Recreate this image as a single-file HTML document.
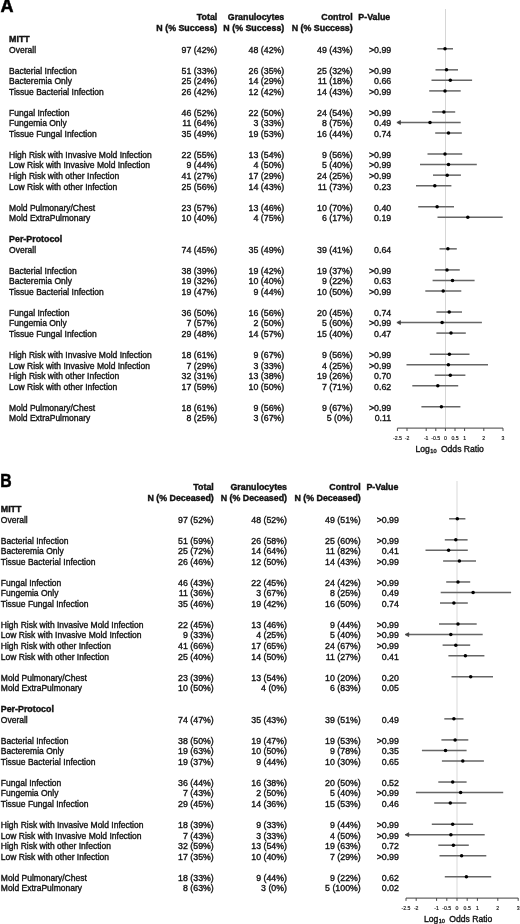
<!DOCTYPE html>
<html><head><meta charset="utf-8"><style>
html,body{margin:0;padding:0;background:#fff;}
body{width:520px;height:924px;overflow:hidden;}
svg{display:block;will-change:transform;}
text{font-family:"Liberation Sans",sans-serif;fill:#111;stroke:#111;stroke-width:0.35px;}
.b{font-weight:bold;font-size:8.85px;stroke-width:0.4px;}
.r{font-size:8.5px;}
.n{font-size:8.8px;}
.e{text-anchor:end;}
.let{font-weight:bold;font-size:17.3px;fill:#000;stroke:#000;stroke-width:0.5px;}
.tl{font-size:5.2px;text-anchor:middle;stroke-width:0.15px;}
.xl{font-size:8.6px;}
.sub{font-size:5.6px;}
.ci{stroke:#666;stroke-width:1.5;}
.ar{stroke:#444;stroke-width:0.9;fill:#444;stroke-linejoin:miter;}
.dot{fill:#000;}
.ref{stroke:#bbb;stroke-width:0.9;}
.ax{stroke:#666;stroke-width:1.2;}
.tk{stroke:#444;stroke-width:1;}
</style></head><body>
<svg width="520" height="924" viewBox="0 0 520 924">
<text x="0.45" y="12.4" class="let" style="font-size:18.0px" textLength="13.0" lengthAdjust="spacingAndGlyphs">A</text>
<text x="217.3" y="20.40" class="b e">Total</text>
<text x="217.3" y="31.30" class="b e">N (% Success)</text>
<text x="284.3" y="20.40" class="b e">Granulocytes</text>
<text x="284.3" y="31.30" class="b e">N (% Success)</text>
<text x="352.7" y="20.40" class="b e">Control</text>
<text x="352.7" y="31.30" class="b e">N (% Success)</text>
<text x="358.3" y="20.40" class="b">P-Value</text>
<line x1="445.5" y1="9" x2="445.5" y2="428.2" class="ref" style="stroke:#d6d6d6;stroke-width:1"/>
<text x="9.1" y="42.10" class="b">MITT</text>
<text x="9.1" y="52.63" class="r">Overall</text>
<text x="217.3" y="52.63" class="n e">97 (42%)</text>
<text x="284.3" y="52.63" class="n e">48 (42%)</text>
<text x="352.7" y="52.63" class="n e">49 (43%)</text>
<text x="391.2" y="52.63" class="n e">>0.99</text>
<line x1="437.3" y1="48.78" x2="453.0" y2="48.78" class="ci"/>
<circle cx="445.0" cy="48.78" r="1.75" class="dot"/>
<text x="9.1" y="73.69" class="r">Bacterial Infection</text>
<text x="217.3" y="73.69" class="n e">51 (33%)</text>
<text x="284.3" y="73.69" class="n e">26 (35%)</text>
<text x="352.7" y="73.69" class="n e">25 (32%)</text>
<text x="391.2" y="73.69" class="n e">>0.99</text>
<line x1="435.5" y1="69.84" x2="458.0" y2="69.84" class="ci"/>
<circle cx="446.5" cy="69.84" r="1.75" class="dot"/>
<text x="9.1" y="84.22" class="r">Bacteremia Only</text>
<text x="217.3" y="84.22" class="n e">25 (24%)</text>
<text x="284.3" y="84.22" class="n e">14 (29%)</text>
<text x="352.7" y="84.22" class="n e">11 (18%)</text>
<text x="391.2" y="84.22" class="n e">0.66</text>
<line x1="431.5" y1="80.37" x2="472.1" y2="80.37" class="ci"/>
<circle cx="450.3" cy="80.37" r="1.75" class="dot"/>
<text x="9.1" y="94.75" class="r">Tissue Bacterial Infection</text>
<text x="217.3" y="94.75" class="n e">26 (42%)</text>
<text x="284.3" y="94.75" class="n e">12 (42%)</text>
<text x="352.7" y="94.75" class="n e">14 (43%)</text>
<text x="391.2" y="94.75" class="n e">>0.99</text>
<line x1="429.2" y1="90.90" x2="460.7" y2="90.90" class="ci"/>
<circle cx="445.0" cy="90.90" r="1.75" class="dot"/>
<text x="9.1" y="115.81" class="r">Fungal Infection</text>
<text x="217.3" y="115.81" class="n e">46 (52%)</text>
<text x="284.3" y="115.81" class="n e">22 (50%)</text>
<text x="352.7" y="115.81" class="n e">24 (54%)</text>
<text x="391.2" y="115.81" class="n e">>0.99</text>
<line x1="432.2" y1="111.96" x2="455.2" y2="111.96" class="ci"/>
<circle cx="443.9" cy="111.96" r="1.75" class="dot"/>
<text x="9.1" y="126.34" class="r">Fungemia Only</text>
<text x="217.3" y="126.34" class="n e">11 (64%)</text>
<text x="284.3" y="126.34" class="n e">3 (33%)</text>
<text x="352.7" y="126.34" class="n e">8 (75%)</text>
<text x="391.2" y="126.34" class="n e">0.49</text>
<line x1="396.8" y1="122.49" x2="460.7" y2="122.49" class="ci"/>
<polygon points="400.40,120.59 397.20,122.49 400.40,124.39" class="ar"/>
<circle cx="430.0" cy="122.49" r="1.75" class="dot"/>
<text x="9.1" y="136.87" class="r">Tissue Fungal Infection</text>
<text x="217.3" y="136.87" class="n e">35 (49%)</text>
<text x="284.3" y="136.87" class="n e">19 (53%)</text>
<text x="352.7" y="136.87" class="n e">16 (44%)</text>
<text x="391.2" y="136.87" class="n e">0.74</text>
<line x1="435.2" y1="133.02" x2="461.8" y2="133.02" class="ci"/>
<circle cx="448.5" cy="133.02" r="1.75" class="dot"/>
<text x="9.1" y="157.93" class="r">High Risk with Invasive Mold Infection</text>
<text x="217.3" y="157.93" class="n e">22 (55%)</text>
<text x="284.3" y="157.93" class="n e">13 (54%)</text>
<text x="352.7" y="157.93" class="n e">9 (56%)</text>
<text x="391.2" y="157.93" class="n e">>0.99</text>
<line x1="427.5" y1="154.08" x2="462.2" y2="154.08" class="ci"/>
<circle cx="445.0" cy="154.08" r="1.75" class="dot"/>
<text x="9.1" y="168.46" class="r">Low Risk with Invasive Mold Infection</text>
<text x="217.3" y="168.46" class="n e">9 (44%)</text>
<text x="284.3" y="168.46" class="n e">4 (50%)</text>
<text x="352.7" y="168.46" class="n e">5 (40%)</text>
<text x="391.2" y="168.46" class="n e">>0.99</text>
<line x1="420.0" y1="164.61" x2="476.8" y2="164.61" class="ci"/>
<circle cx="448.5" cy="164.61" r="1.75" class="dot"/>
<text x="9.1" y="178.99" class="r">High Risk with other Infection</text>
<text x="217.3" y="178.99" class="n e">41 (27%)</text>
<text x="284.3" y="178.99" class="n e">17 (29%)</text>
<text x="352.7" y="178.99" class="n e">24 (25%)</text>
<text x="391.2" y="178.99" class="n e">>0.99</text>
<line x1="433.0" y1="175.14" x2="460.9" y2="175.14" class="ci"/>
<circle cx="447.2" cy="175.14" r="1.75" class="dot"/>
<text x="9.1" y="189.52" class="r">Low Risk with other Infection</text>
<text x="217.3" y="189.52" class="n e">25 (56%)</text>
<text x="284.3" y="189.52" class="n e">14 (43%)</text>
<text x="352.7" y="189.52" class="n e">11 (73%)</text>
<text x="391.2" y="189.52" class="n e">0.23</text>
<line x1="416.0" y1="185.67" x2="451.4" y2="185.67" class="ci"/>
<circle cx="434.8" cy="185.67" r="1.75" class="dot"/>
<text x="9.1" y="210.58" class="r">Mold Pulmonary/Chest</text>
<text x="217.3" y="210.58" class="n e">23 (57%)</text>
<text x="284.3" y="210.58" class="n e">13 (46%)</text>
<text x="352.7" y="210.58" class="n e">10 (70%)</text>
<text x="391.2" y="210.58" class="n e">0.40</text>
<line x1="418.2" y1="206.73" x2="454.0" y2="206.73" class="ci"/>
<circle cx="437.1" cy="206.73" r="1.75" class="dot"/>
<text x="9.1" y="221.11" class="r">Mold ExtraPulmonary</text>
<text x="217.3" y="221.11" class="n e">10 (40%)</text>
<text x="284.3" y="221.11" class="n e">4 (75%)</text>
<text x="352.7" y="221.11" class="n e">6 (17%)</text>
<text x="391.2" y="221.11" class="n e">0.19</text>
<line x1="437.5" y1="217.26" x2="502.7" y2="217.26" class="ci"/>
<circle cx="467.8" cy="217.26" r="1.75" class="dot"/>
<text x="9.1" y="242.17" class="b">Per-Protocol</text>
<text x="9.1" y="252.70" class="r">Overall</text>
<text x="217.3" y="252.70" class="n e">74 (45%)</text>
<text x="284.3" y="252.70" class="n e">35 (49%)</text>
<text x="352.7" y="252.70" class="n e">39 (41%)</text>
<text x="391.2" y="252.70" class="n e">0.64</text>
<line x1="439.5" y1="248.85" x2="456.8" y2="248.85" class="ci"/>
<circle cx="447.9" cy="248.85" r="1.75" class="dot"/>
<text x="9.1" y="273.76" class="r">Bacterial Infection</text>
<text x="217.3" y="273.76" class="n e">38 (39%)</text>
<text x="284.3" y="273.76" class="n e">19 (42%)</text>
<text x="352.7" y="273.76" class="n e">19 (37%)</text>
<text x="391.2" y="273.76" class="n e">>0.99</text>
<line x1="434.8" y1="269.91" x2="459.8" y2="269.91" class="ci"/>
<circle cx="447.0" cy="269.91" r="1.75" class="dot"/>
<text x="9.1" y="284.29" class="r">Bacteremia Only</text>
<text x="217.3" y="284.29" class="n e">19 (32%)</text>
<text x="284.3" y="284.29" class="n e">10 (40%)</text>
<text x="352.7" y="284.29" class="n e">9 (22%)</text>
<text x="391.2" y="284.29" class="n e">0.63</text>
<line x1="432.6" y1="280.44" x2="474.6" y2="280.44" class="ci"/>
<circle cx="452.5" cy="280.44" r="1.75" class="dot"/>
<text x="9.1" y="294.82" class="r">Tissue Bacterial Infection</text>
<text x="217.3" y="294.82" class="n e">19 (47%)</text>
<text x="284.3" y="294.82" class="n e">9 (44%)</text>
<text x="352.7" y="294.82" class="n e">10 (50%)</text>
<text x="391.2" y="294.82" class="n e">>0.99</text>
<line x1="425.3" y1="290.97" x2="461.3" y2="290.97" class="ci"/>
<circle cx="443.2" cy="290.97" r="1.75" class="dot"/>
<text x="9.1" y="315.88" class="r">Fungal Infection</text>
<text x="217.3" y="315.88" class="n e">36 (50%)</text>
<text x="284.3" y="315.88" class="n e">16 (56%)</text>
<text x="352.7" y="315.88" class="n e">20 (45%)</text>
<text x="391.2" y="315.88" class="n e">0.74</text>
<line x1="436.4" y1="312.03" x2="462.0" y2="312.03" class="ci"/>
<circle cx="449.2" cy="312.03" r="1.75" class="dot"/>
<text x="9.1" y="326.41" class="r">Fungemia Only</text>
<text x="217.3" y="326.41" class="n e">7 (57%)</text>
<text x="284.3" y="326.41" class="n e">2 (50%)</text>
<text x="352.7" y="326.41" class="n e">5 (60%)</text>
<text x="391.2" y="326.41" class="n e">>0.99</text>
<line x1="396.8" y1="322.56" x2="481.9" y2="322.56" class="ci"/>
<polygon points="400.40,320.66 397.20,322.56 400.40,324.46" class="ar"/>
<circle cx="442.1" cy="322.56" r="1.75" class="dot"/>
<text x="9.1" y="336.94" class="r">Tissue Fungal Infection</text>
<text x="217.3" y="336.94" class="n e">29 (48%)</text>
<text x="284.3" y="336.94" class="n e">14 (57%)</text>
<text x="352.7" y="336.94" class="n e">15 (40%)</text>
<text x="391.2" y="336.94" class="n e">0.47</text>
<line x1="436.4" y1="333.09" x2="465.8" y2="333.09" class="ci"/>
<circle cx="451.0" cy="333.09" r="1.75" class="dot"/>
<text x="9.1" y="358.00" class="r">High Risk with Invasive Mold Infection</text>
<text x="217.3" y="358.00" class="n e">18 (61%)</text>
<text x="284.3" y="358.00" class="n e">9 (67%)</text>
<text x="352.7" y="358.00" class="n e">9 (56%)</text>
<text x="391.2" y="358.00" class="n e">>0.99</text>
<line x1="429.8" y1="354.15" x2="469.5" y2="354.15" class="ci"/>
<circle cx="449.4" cy="354.15" r="1.75" class="dot"/>
<text x="9.1" y="368.53" class="r">Low Risk with Invasive Mold Infection</text>
<text x="217.3" y="368.53" class="n e">7 (29%)</text>
<text x="284.3" y="368.53" class="n e">3 (33%)</text>
<text x="352.7" y="368.53" class="n e">4 (25%)</text>
<text x="391.2" y="368.53" class="n e">>0.99</text>
<line x1="406.5" y1="364.68" x2="488.0" y2="364.68" class="ci"/>
<circle cx="448.4" cy="364.68" r="1.75" class="dot"/>
<text x="9.1" y="379.06" class="r">High Risk with other Infection</text>
<text x="217.3" y="379.06" class="n e">32 (31%)</text>
<text x="284.3" y="379.06" class="n e">13 (38%)</text>
<text x="352.7" y="379.06" class="n e">19 (26%)</text>
<text x="391.2" y="379.06" class="n e">0.70</text>
<line x1="434.7" y1="375.21" x2="465.4" y2="375.21" class="ci"/>
<circle cx="450.3" cy="375.21" r="1.75" class="dot"/>
<text x="9.1" y="389.59" class="r">Low Risk with other Infection</text>
<text x="217.3" y="389.59" class="n e">17 (59%)</text>
<text x="284.3" y="389.59" class="n e">10 (50%)</text>
<text x="352.7" y="389.59" class="n e">7 (71%)</text>
<text x="391.2" y="389.59" class="n e">0.62</text>
<line x1="412.3" y1="385.74" x2="458.2" y2="385.74" class="ci"/>
<circle cx="437.8" cy="385.74" r="1.75" class="dot"/>
<text x="9.1" y="410.65" class="r">Mold Pulmonary/Chest</text>
<text x="217.3" y="410.65" class="n e">18 (61%)</text>
<text x="284.3" y="410.65" class="n e">9 (56%)</text>
<text x="352.7" y="410.65" class="n e">9 (67%)</text>
<text x="391.2" y="410.65" class="n e">>0.99</text>
<line x1="421.4" y1="406.80" x2="460.4" y2="406.80" class="ci"/>
<circle cx="441.4" cy="406.80" r="1.75" class="dot"/>
<text x="9.1" y="421.18" class="r">Mold ExtraPulmonary</text>
<text x="217.3" y="421.18" class="n e">8 (25%)</text>
<text x="284.3" y="421.18" class="n e">3 (67%)</text>
<text x="352.7" y="421.18" class="n e">5 (0%)</text>
<text x="391.2" y="421.18" class="n e">0.11</text>
<line x1="397.40" y1="428.2" x2="503.00" y2="428.2" class="ax"/>
<line x1="397.40" y1="428.2" x2="397.40" y2="431.0" class="tk"/>
<text x="397.40" y="439.70" class="tl">-2.5</text>
<line x1="407.00" y1="428.2" x2="407.00" y2="431.0" class="tk"/>
<text x="407.00" y="439.70" class="tl">-2</text>
<line x1="426.20" y1="428.2" x2="426.20" y2="431.0" class="tk"/>
<text x="426.20" y="439.70" class="tl">-1</text>
<line x1="435.80" y1="428.2" x2="435.80" y2="431.0" class="tk"/>
<text x="435.80" y="439.70" class="tl">-0.5</text>
<line x1="445.40" y1="428.2" x2="445.40" y2="431.0" class="tk"/>
<text x="445.40" y="439.70" class="tl">0</text>
<line x1="455.00" y1="428.2" x2="455.00" y2="431.0" class="tk"/>
<text x="455.00" y="439.70" class="tl">0.5</text>
<line x1="464.60" y1="428.2" x2="464.60" y2="431.0" class="tk"/>
<text x="464.60" y="439.70" class="tl">1</text>
<line x1="483.80" y1="428.2" x2="483.80" y2="431.0" class="tk"/>
<text x="483.80" y="439.70" class="tl">2</text>
<line x1="503.00" y1="428.2" x2="503.00" y2="431.0" class="tk"/>
<text x="503.00" y="439.70" class="tl">3</text>
<text x="415.5" y="451.80" class="xl">Log</text>
<text x="430.30" y="453.40" class="sub">10</text>
<text x="440.90" y="451.80" class="xl">Odds Ratio</text>
<text x="0.3" y="486.8" class="let" style="font-size:17.5px" textLength="11.4" lengthAdjust="spacingAndGlyphs">B</text>
<text x="213.8" y="490.40" class="b e">Total</text>
<text x="213.8" y="501.30" class="b e">N (% Deceased)</text>
<text x="287.0" y="490.40" class="b e">Granulocytes</text>
<text x="287.0" y="501.30" class="b e">N (% Deceased)</text>
<text x="360.8" y="490.40" class="b e">Control</text>
<text x="360.8" y="501.30" class="b e">N (% Deceased)</text>
<text x="366.4" y="490.40" class="b">P-Value</text>
<line x1="457.0" y1="481" x2="457.0" y2="898.1" class="ref" style="stroke:#e4e4e4;stroke-width:1.4"/>
<text x="0.8" y="512.10" class="b">MITT</text>
<text x="0.8" y="522.63" class="r">Overall</text>
<text x="213.8" y="522.63" class="n e">97 (52%)</text>
<text x="287.0" y="522.63" class="n e">48 (52%)</text>
<text x="360.8" y="522.63" class="n e">49 (51%)</text>
<text x="398.9" y="522.63" class="n e">>0.99</text>
<line x1="449.1" y1="518.78" x2="465.4" y2="518.78" class="ci"/>
<circle cx="457.3" cy="518.78" r="1.75" class="dot"/>
<text x="0.8" y="543.69" class="r">Bacterial Infection</text>
<text x="213.8" y="543.69" class="n e">51 (59%)</text>
<text x="287.0" y="543.69" class="n e">26 (58%)</text>
<text x="360.8" y="543.69" class="n e">25 (60%)</text>
<text x="398.9" y="543.69" class="n e">>0.99</text>
<line x1="444.8" y1="539.84" x2="467.6" y2="539.84" class="ci"/>
<circle cx="455.8" cy="539.84" r="1.75" class="dot"/>
<text x="0.8" y="554.22" class="r">Bacteremia Only</text>
<text x="213.8" y="554.22" class="n e">25 (72%)</text>
<text x="287.0" y="554.22" class="n e">14 (64%)</text>
<text x="360.8" y="554.22" class="n e">11 (82%)</text>
<text x="398.9" y="554.22" class="n e">0.41</text>
<line x1="425.5" y1="550.37" x2="467.8" y2="550.37" class="ci"/>
<circle cx="448.6" cy="550.37" r="1.75" class="dot"/>
<text x="0.8" y="564.75" class="r">Tissue Bacterial Infection</text>
<text x="213.8" y="564.75" class="n e">26 (46%)</text>
<text x="287.0" y="564.75" class="n e">12 (50%)</text>
<text x="360.8" y="564.75" class="n e">14 (43%)</text>
<text x="398.9" y="564.75" class="n e">>0.99</text>
<line x1="443.1" y1="560.90" x2="476.0" y2="560.90" class="ci"/>
<circle cx="459.4" cy="560.90" r="1.75" class="dot"/>
<text x="0.8" y="585.81" class="r">Fungal Infection</text>
<text x="213.8" y="585.81" class="n e">46 (43%)</text>
<text x="287.0" y="585.81" class="n e">22 (45%)</text>
<text x="360.8" y="585.81" class="n e">24 (42%)</text>
<text x="398.9" y="585.81" class="n e">>0.99</text>
<line x1="446.2" y1="581.96" x2="470.2" y2="581.96" class="ci"/>
<circle cx="458.0" cy="581.96" r="1.75" class="dot"/>
<text x="0.8" y="596.34" class="r">Fungemia Only</text>
<text x="213.8" y="596.34" class="n e">11 (36%)</text>
<text x="287.0" y="596.34" class="n e">3 (67%)</text>
<text x="360.8" y="596.34" class="n e">8 (25%)</text>
<text x="398.9" y="596.34" class="n e">0.49</text>
<line x1="440.7" y1="592.49" x2="511.1" y2="592.49" class="ci"/>
<circle cx="473.1" cy="592.49" r="1.75" class="dot"/>
<text x="0.8" y="606.87" class="r">Tissue Fungal Infection</text>
<text x="213.8" y="606.87" class="n e">35 (46%)</text>
<text x="287.0" y="606.87" class="n e">19 (42%)</text>
<text x="360.8" y="606.87" class="n e">16 (50%)</text>
<text x="398.9" y="606.87" class="n e">0.74</text>
<line x1="440.0" y1="603.02" x2="467.8" y2="603.02" class="ci"/>
<circle cx="453.9" cy="603.02" r="1.75" class="dot"/>
<text x="0.8" y="627.93" class="r">High Risk with Invasive Mold Infection</text>
<text x="213.8" y="627.93" class="n e">22 (45%)</text>
<text x="287.0" y="627.93" class="n e">13 (46%)</text>
<text x="360.8" y="627.93" class="n e">9 (44%)</text>
<text x="398.9" y="627.93" class="n e">>0.99</text>
<line x1="439.0" y1="624.08" x2="476.7" y2="624.08" class="ci"/>
<circle cx="458.0" cy="624.08" r="1.75" class="dot"/>
<text x="0.8" y="638.46" class="r">Low Risk with Invasive Mold Infection</text>
<text x="213.8" y="638.46" class="n e">9 (33%)</text>
<text x="287.0" y="638.46" class="n e">4 (25%)</text>
<text x="360.8" y="638.46" class="n e">5 (40%)</text>
<text x="398.9" y="638.46" class="n e">>0.99</text>
<line x1="405.1" y1="634.61" x2="482.7" y2="634.61" class="ci"/>
<polygon points="408.70,632.71 405.50,634.61 408.70,636.51" class="ar"/>
<circle cx="450.8" cy="634.61" r="1.75" class="dot"/>
<text x="0.8" y="648.99" class="r">High Risk with other Infection</text>
<text x="213.8" y="648.99" class="n e">41 (66%)</text>
<text x="287.0" y="648.99" class="n e">17 (65%)</text>
<text x="360.8" y="648.99" class="n e">24 (67%)</text>
<text x="398.9" y="648.99" class="n e">>0.99</text>
<line x1="442.6" y1="645.14" x2="470.2" y2="645.14" class="ci"/>
<circle cx="455.8" cy="645.14" r="1.75" class="dot"/>
<text x="0.8" y="659.52" class="r">Low Risk with other Infection</text>
<text x="213.8" y="659.52" class="n e">25 (40%)</text>
<text x="287.0" y="659.52" class="n e">14 (50%)</text>
<text x="360.8" y="659.52" class="n e">11 (27%)</text>
<text x="398.9" y="659.52" class="n e">0.41</text>
<line x1="448.4" y1="655.67" x2="484.4" y2="655.67" class="ci"/>
<circle cx="465.4" cy="655.67" r="1.75" class="dot"/>
<text x="0.8" y="680.58" class="r">Mold Pulmonary/Chest</text>
<text x="213.8" y="680.58" class="n e">23 (39%)</text>
<text x="287.0" y="680.58" class="n e">13 (54%)</text>
<text x="360.8" y="680.58" class="n e">10 (20%)</text>
<text x="398.9" y="680.58" class="n e">0.20</text>
<line x1="451.5" y1="676.73" x2="493.0" y2="676.73" class="ci"/>
<circle cx="470.7" cy="676.73" r="1.75" class="dot"/>
<text x="0.8" y="691.11" class="r">Mold ExtraPulmonary</text>
<text x="213.8" y="691.11" class="n e">10 (50%)</text>
<text x="287.0" y="691.11" class="n e">4 (0%)</text>
<text x="360.8" y="691.11" class="n e">6 (83%)</text>
<text x="398.9" y="691.11" class="n e">0.05</text>
<text x="0.8" y="712.17" class="b">Per-Protocol</text>
<text x="0.8" y="722.70" class="r">Overall</text>
<text x="213.8" y="722.70" class="n e">74 (47%)</text>
<text x="287.0" y="722.70" class="n e">35 (43%)</text>
<text x="360.8" y="722.70" class="n e">39 (51%)</text>
<text x="398.9" y="722.70" class="n e">0.49</text>
<line x1="444.3" y1="718.85" x2="463.5" y2="718.85" class="ci"/>
<circle cx="453.9" cy="718.85" r="1.75" class="dot"/>
<text x="0.8" y="743.76" class="r">Bacterial Infection</text>
<text x="213.8" y="743.76" class="n e">38 (50%)</text>
<text x="287.0" y="743.76" class="n e">19 (47%)</text>
<text x="360.8" y="743.76" class="n e">19 (53%)</text>
<text x="398.9" y="743.76" class="n e">>0.99</text>
<line x1="441.4" y1="739.91" x2="468.3" y2="739.91" class="ci"/>
<circle cx="455.1" cy="739.91" r="1.75" class="dot"/>
<text x="0.8" y="754.29" class="r">Bacteremia Only</text>
<text x="213.8" y="754.29" class="n e">19 (63%)</text>
<text x="287.0" y="754.29" class="n e">10 (50%)</text>
<text x="360.8" y="754.29" class="n e">9 (78%)</text>
<text x="398.9" y="754.29" class="n e">0.35</text>
<line x1="421.9" y1="750.44" x2="466.6" y2="750.44" class="ci"/>
<circle cx="445.5" cy="750.44" r="1.75" class="dot"/>
<text x="0.8" y="764.82" class="r">Tissue Bacterial Infection</text>
<text x="213.8" y="764.82" class="n e">19 (37%)</text>
<text x="287.0" y="764.82" class="n e">9 (44%)</text>
<text x="360.8" y="764.82" class="n e">10 (30%)</text>
<text x="398.9" y="764.82" class="n e">0.65</text>
<line x1="441.9" y1="760.97" x2="483.9" y2="760.97" class="ci"/>
<circle cx="462.8" cy="760.97" r="1.75" class="dot"/>
<text x="0.8" y="785.88" class="r">Fungal Infection</text>
<text x="213.8" y="785.88" class="n e">36 (44%)</text>
<text x="287.0" y="785.88" class="n e">16 (38%)</text>
<text x="360.8" y="785.88" class="n e">20 (50%)</text>
<text x="398.9" y="785.88" class="n e">0.52</text>
<line x1="438.3" y1="782.03" x2="466.6" y2="782.03" class="ci"/>
<circle cx="452.7" cy="782.03" r="1.75" class="dot"/>
<text x="0.8" y="796.41" class="r">Fungemia Only</text>
<text x="213.8" y="796.41" class="n e">7 (43%)</text>
<text x="287.0" y="796.41" class="n e">2 (50%)</text>
<text x="360.8" y="796.41" class="n e">5 (40%)</text>
<text x="398.9" y="796.41" class="n e">>0.99</text>
<line x1="415.9" y1="792.56" x2="503.2" y2="792.56" class="ci"/>
<circle cx="460.6" cy="792.56" r="1.75" class="dot"/>
<text x="0.8" y="806.94" class="r">Tissue Fungal Infection</text>
<text x="213.8" y="806.94" class="n e">29 (45%)</text>
<text x="287.0" y="806.94" class="n e">14 (36%)</text>
<text x="360.8" y="806.94" class="n e">15 (53%)</text>
<text x="398.9" y="806.94" class="n e">0.46</text>
<line x1="434.2" y1="803.09" x2="466.4" y2="803.09" class="ci"/>
<circle cx="450.3" cy="803.09" r="1.75" class="dot"/>
<text x="0.8" y="828.00" class="r">High Risk with Invasive Mold Infection</text>
<text x="213.8" y="828.00" class="n e">18 (39%)</text>
<text x="287.0" y="828.00" class="n e">9 (33%)</text>
<text x="360.8" y="828.00" class="n e">9 (44%)</text>
<text x="398.9" y="828.00" class="n e">>0.99</text>
<line x1="431.8" y1="824.15" x2="473.1" y2="824.15" class="ci"/>
<circle cx="452.7" cy="824.15" r="1.75" class="dot"/>
<text x="0.8" y="838.53" class="r">Low Risk with Invasive Mold Infection</text>
<text x="213.8" y="838.53" class="n e">7 (43%)</text>
<text x="287.0" y="838.53" class="n e">3 (33%)</text>
<text x="360.8" y="838.53" class="n e">4 (50%)</text>
<text x="398.9" y="838.53" class="n e">>0.99</text>
<line x1="405.1" y1="834.68" x2="484.7" y2="834.68" class="ci"/>
<polygon points="408.70,832.78 405.50,834.68 408.70,836.58" class="ar"/>
<circle cx="450.9" cy="834.68" r="1.75" class="dot"/>
<text x="0.8" y="849.06" class="r">High Risk with other Infection</text>
<text x="213.8" y="849.06" class="n e">32 (59%)</text>
<text x="287.0" y="849.06" class="n e">13 (54%)</text>
<text x="360.8" y="849.06" class="n e">19 (63%)</text>
<text x="398.9" y="849.06" class="n e">0.72</text>
<line x1="438.3" y1="845.21" x2="468.8" y2="845.21" class="ci"/>
<circle cx="453.4" cy="845.21" r="1.75" class="dot"/>
<text x="0.8" y="859.59" class="r">Low Risk with other Infection</text>
<text x="213.8" y="859.59" class="n e">17 (35%)</text>
<text x="287.0" y="859.59" class="n e">10 (40%)</text>
<text x="360.8" y="859.59" class="n e">7 (29%)</text>
<text x="398.9" y="859.59" class="n e">>0.99</text>
<line x1="439.5" y1="855.74" x2="486.3" y2="855.74" class="ci"/>
<circle cx="461.6" cy="855.74" r="1.75" class="dot"/>
<text x="0.8" y="880.65" class="r">Mold Pulmonary/Chest</text>
<text x="213.8" y="880.65" class="n e">18 (33%)</text>
<text x="287.0" y="880.65" class="n e">9 (44%)</text>
<text x="360.8" y="880.65" class="n e">9 (22%)</text>
<text x="398.9" y="880.65" class="n e">0.62</text>
<line x1="444.8" y1="876.80" x2="491.2" y2="876.80" class="ci"/>
<circle cx="466.4" cy="876.80" r="1.75" class="dot"/>
<text x="0.8" y="891.18" class="r">Mold ExtraPulmonary</text>
<text x="213.8" y="891.18" class="n e">8 (63%)</text>
<text x="287.0" y="891.18" class="n e">3 (0%)</text>
<text x="360.8" y="891.18" class="n e">5 (100%)</text>
<text x="398.9" y="891.18" class="n e">0.02</text>
<line x1="406.00" y1="898.1" x2="518.20" y2="898.1" class="ax"/>
<line x1="406.00" y1="898.1" x2="406.00" y2="900.9" class="tk"/>
<text x="406.00" y="909.60" class="tl">-2.5</text>
<line x1="416.20" y1="898.1" x2="416.20" y2="900.9" class="tk"/>
<text x="416.20" y="909.60" class="tl">-2</text>
<line x1="436.60" y1="898.1" x2="436.60" y2="900.9" class="tk"/>
<text x="436.60" y="909.60" class="tl">-1</text>
<line x1="446.80" y1="898.1" x2="446.80" y2="900.9" class="tk"/>
<text x="446.80" y="909.60" class="tl">-0.5</text>
<line x1="457.00" y1="898.1" x2="457.00" y2="900.9" class="tk"/>
<text x="457.00" y="909.60" class="tl">0</text>
<line x1="467.20" y1="898.1" x2="467.20" y2="900.9" class="tk"/>
<text x="467.20" y="909.60" class="tl">0.5</text>
<line x1="477.40" y1="898.1" x2="477.40" y2="900.9" class="tk"/>
<text x="477.40" y="909.60" class="tl">1</text>
<line x1="497.80" y1="898.1" x2="497.80" y2="900.9" class="tk"/>
<text x="497.80" y="909.60" class="tl">2</text>
<line x1="518.20" y1="898.1" x2="518.20" y2="900.9" class="tk"/>
<text x="518.20" y="909.60" class="tl">3</text>
<text x="423.9" y="921.70" class="xl">Log</text>
<text x="438.70" y="923.30" class="sub">10</text>
<text x="449.30" y="921.70" class="xl">Odds Ratio</text>
</svg>
</body></html>
